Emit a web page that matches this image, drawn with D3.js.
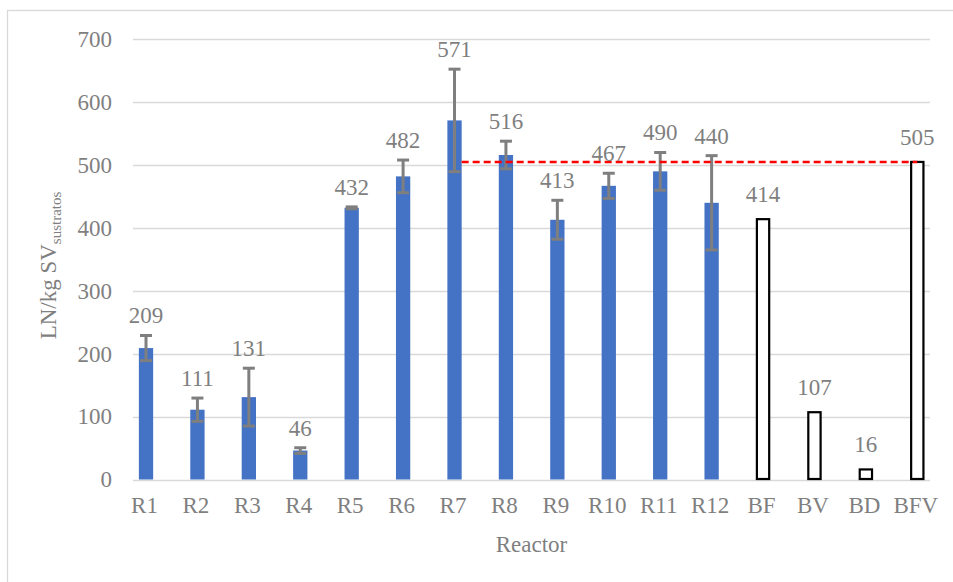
<!DOCTYPE html>
<html><head><meta charset="utf-8">
<script src="https://cdn.jsdelivr.net/npm/d3@7"></script>
<style>
html,body{margin:0;padding:0;background:#fff;}
svg text{font-family:'Liberation Serif','Times New Roman',serif !important;fill:#7f7f7f;}
</style></head>
<body>
<svg id="chart" width="953" height="582"></svg>
<script>
const categories = ["R1","R2","R3","R4","R5","R6","R7","R8","R9","R10","R11","R12","BF","BV","BD","BFV"];
const values     = [209,111,131,46,432,482,571,516,413,467,490,440,414,107,16,505];
const errors     = [20,18.5,46,4.5,1.5,26,81.5,22,31,20,30,75,null,null,null,null];
const hollow     = [false,false,false,false,false,false,false,false,false,false,false,false,true,true,true,true];
const yTicks     = [0,100,200,300,400,500,600,700];
const refValue   = 505;         // reference line level (BFV)
const refFrom    = "R7";
const refTo      = "BFV";
const yTitle     = "LN/kg SV";
const yTitleSub  = "sustratos";
const xTitle     = "Reactor";

const FONT = "'Liberation Serif','Times New Roman',serif";
const svg = d3.select("#chart");
const plot = {left:133, right:930, top:39.3, bottom:479.5};

// chart border
svg.append("rect").attr("x",7.5).attr("y",10.5).attr("width",1000).attr("height",700)
  .attr("fill","none").attr("stroke","#d9d9d9").attr("stroke-width",1.3);

const x = d3.scaleBand().domain(categories).range([120.3,943]).paddingInner(0.722).paddingOuter(0.361);
const y = d3.scaleLinear().domain([0,700]).range([plot.bottom, plot.top]);

// gridlines
svg.append("g").selectAll("line").data(yTicks).join("line")
  .attr("x1",plot.left).attr("x2",plot.right)
  .attr("y1",d=>Math.round(y(d))+0.5).attr("y2",d=>Math.round(y(d))+0.5)
  .attr("stroke","#d9d9d9").attr("stroke-width",1.5);

// y axis labels
const yAxis = d3.axisLeft(y).tickValues(yTicks).tickSize(0).tickPadding(0);
const gy = svg.append("g").attr("transform","translate(112,0)").call(yAxis)
  .attr("font-family",FONT).attr("font-size",23);
gy.select(".domain").remove();
gy.selectAll("text").attr("fill","#7f7f7f").attr("font-family",FONT);

// x axis labels
const xAxis = d3.axisBottom(x).tickSize(0).tickPadding(0);
const gx = svg.append("g").attr("transform","translate(-1.5,497)").call(xAxis)
  .attr("font-family",FONT).attr("font-size",23);
gx.select(".domain").remove();
gx.selectAll("text").attr("fill","#7f7f7f").attr("font-family",FONT);

const data = categories.map((c,i)=>({c, v:values[i], e:errors[i], h:hollow[i]}));

// bars
svg.append("g").selectAll("rect").data(data).join("rect")
  .attr("x",d=>d.h ? x(d.c)+1 : x(d.c))
  .attr("width",d=>d.h ? x.bandwidth()-2 : x.bandwidth())
  .attr("y",d=>y(d.v))
  .attr("height",d=>y(0)-y(d.v) - (d.h?0.5:0))
  .attr("fill",d=>d.h ? "#ffffff" : "#4472c4")
  .attr("stroke",d=>d.h ? "#000000" : "none")
  .attr("stroke-width",2.2);

// error bars
const eg = svg.append("g").attr("stroke","#7f7f7f").attr("stroke-width",3);
const ed = data.filter(d=>d.e!=null);
const cx = d=>x(d.c)+x.bandwidth()/2;
eg.selectAll("line.v").data(ed).join("line").attr("class","v")
  .attr("x1",cx).attr("x2",cx).attr("y1",d=>y(d.v+d.e)).attr("y2",d=>y(d.v-d.e));
eg.selectAll("line.t").data(ed).join("line").attr("class","t")
  .attr("x1",d=>cx(d)-6).attr("x2",d=>cx(d)+6).attr("y1",d=>y(d.v+d.e)).attr("y2",d=>y(d.v+d.e));
eg.selectAll("line.b").data(ed).join("line").attr("class","b")
  .attr("x1",d=>cx(d)-6).attr("x2",d=>cx(d)+6).attr("y1",d=>y(d.v-d.e)).attr("y2",d=>y(d.v-d.e));

// reference dashed line
svg.append("line")
  .attr("x1",x(refFrom)+x.bandwidth()).attr("x2",x(refTo)+x.bandwidth()/2)
  .attr("y1",y(refValue)).attr("y2",y(refValue))
  .attr("stroke","#ff0000").attr("stroke-width",2.6).attr("stroke-dasharray","7,4");

// data labels
svg.append("g").attr("font-family",FONT).selectAll("text").data(data).join("text")
  .attr("x",cx).attr("y",d=> d.e!=null ? y(d.v+d.e)-12 : y(d.v)-17)
  .attr("text-anchor","middle").attr("font-size",23).attr("font-family",FONT).text(d=>d.v);

// y title
const yt = svg.append("text").attr("transform","translate(56,265.5) rotate(-90)")
  .attr("text-anchor","middle").attr("font-size",23).attr("font-family",FONT);
yt.append("tspan").text(yTitle);
yt.append("tspan").attr("font-size",15).attr("dy",5).text(yTitleSub);

// x title
svg.append("text").attr("x",(plot.left+plot.right)/2).attr("y",552)
  .attr("text-anchor","middle").attr("font-size",23).attr("font-family",FONT).text(xTitle);
</script>
</body></html>
